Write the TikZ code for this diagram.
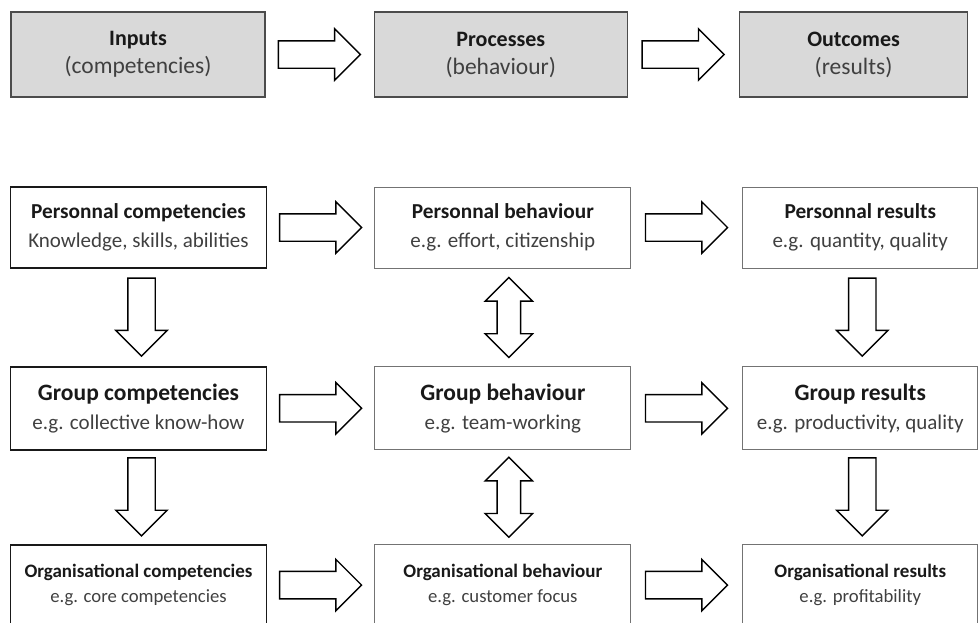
\documentclass[tikz,border=0pt]{standalone}
\usepackage{fontspec}
\setmainfont{Carlito}
\usetikzlibrary{positioning,shapes.arrows,calc}
\definecolor{subgray}{HTML}{404040}
\newcommand{\boxtext}[3]{{\fontsize{#1}{29}\selectfont\bfseries #2}\\\textcolor{subgray}{#3}}

\begin{document}
\begin{tikzpicture}[x=1pt, y=-1pt,
  box/.style={draw=black!55, line width=0.9pt, minimum width=256pt, minimum height=81pt, align=center, inner sep=2pt, text=black!90},
  topbox/.style={box, fill=black!15, draw=black!70, line width=1.3pt, minimum height=85pt, font=\fontsize{23.5}{28}\selectfont},
  inbox/.style={box, draw=black!90, line width=1.8pt},
  resbox/.style={box, minimum width=235pt},
  fa/.style={font=\fontsize{21}{29}\selectfont},
  fb/.style={font=\fontsize{21}{29}\selectfont},
  fc/.style={font=\fontsize{18.7}{25}\selectfont},
  harrow/.style={single arrow, draw=black, line width=1.4pt, fill=white, inner xsep=0pt, inner ysep=13pt,
    minimum height=82pt, minimum width=50pt, single arrow head extend=12pt, anchor=tail},
  varrow/.style={harrow, minimum height=78pt, rotate=-90},
  darrow/.style={double arrow, draw=black, line width=1.4pt, fill=white, inner xsep=0pt, inner ysep=11pt,
    minimum height=80pt, minimum width=46pt, double arrow head extend=12pt, rotate=90}
]
\useasboundingbox (0,0) rectangle (979,622);
% top row
\node[topbox, minimum width=254pt] (inputs) at (138,54.5) {\boxtext{22}{Inputs}{(competencies)}};
\node[topbox, minimum width=253pt, right=108pt of inputs] (processes) {\boxtext{22}{Processes}{(behaviour)}};
\node[topbox, minimum width=228pt, right=111pt of processes] (outcomes) {\boxtext{22}{Outcomes}{(results)}};
% personnal
\node[inbox, fa] (pcomp) at (138.5,227.5) {\boxtext{21.3}{Personnal competencies}{Knowledge, skills, abilities}};
\node[box, fa, right=107pt of pcomp] (pbeh) {\boxtext{21.3}{Personnal behaviour}{e.g. effort, citizenship}};
\node[resbox, fa, right=111pt of pbeh] (pres) {\boxtext{21.3}{Personnal results}{e.g. quantity, quality}};
% group
\node[inbox, fb, minimum height=83pt, below=97pt of pcomp] (gcomp) {\boxtext{23.5}{Group competencies}{e.g. collective know-how}};
\node[box, fb, minimum height=83pt, right=107pt of gcomp] (gbeh) {\boxtext{23.5}{Group behaviour}{e.g. team-working}};
\node[resbox, fb, minimum height=83pt, right=111pt of gbeh] (gres) {\boxtext{23.5}{Group results}{e.g. productivity, quality}};
% organisational
\node[inbox, fc, below=93pt of gcomp] (ocomp) {\boxtext{19}{Organisational competencies}{e.g. core competencies}};
\node[box, fc, right=107pt of ocomp] (obeh) {\boxtext{19}{Organisational behaviour}{e.g. customer focus}};
\node[resbox, fc, right=111pt of obeh] (ores) {\boxtext{19}{Organisational results}{e.g. profitability}};
% horizontal arrows
\foreach \a/\b in {inputs/processes, processes/outcomes, pcomp/pbeh, pbeh/pres, gcomp/gbeh, gbeh/gres, ocomp/obeh, obeh/ores}
  \node[harrow] at ($(\a.east)!0.5!(\b.west)+(-42pt,0pt)$) {};
% vertical arrows
\foreach \a/\b in {pcomp/gcomp, gcomp/ocomp}
  \node[varrow] at ($(\a.south)!0.5!(\b.north)+(3pt,40pt)$) {};
\foreach \a/\b in {pres/gres, gres/ores}
  \node[varrow] at ($(\a.south)!0.5!(\b.north)+(2pt,40pt)$) {};
\foreach \a/\b in {pbeh/gbeh, gbeh/obeh}
  \node[darrow] at ($(\a.south)!0.5!(\b.north)+(6pt,0pt)$) {};
\end{tikzpicture}
\end{document}
